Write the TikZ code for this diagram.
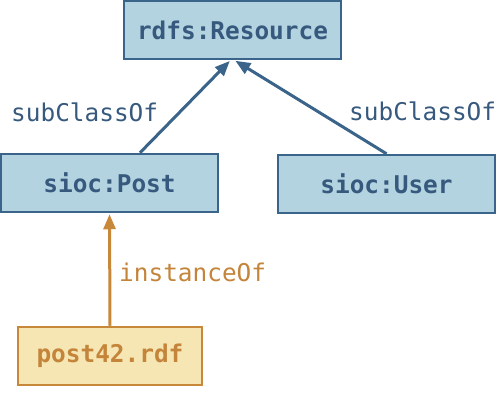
\documentclass[tikz,border=0pt]{standalone}
\usepackage{fontspec}
\setmonofont{DejaVu Sans Mono}
\usetikzlibrary{arrows.meta}
\definecolor{classfill}{HTML}{B3D3E0}
\definecolor{classline}{HTML}{3A6489}
\definecolor{classtext}{HTML}{36597D}
\definecolor{instfill}{HTML}{F5E6B3}
\definecolor{instline}{HTML}{C8883A}
\definecolor{insttext}{HTML}{C4843A}
\tikzset{
  classbox/.style={draw=classline,fill=classfill,text=classtext,line width=2.5pt,
    minimum width=217pt,minimum height=58pt,inner sep=0pt,font=\ttfamily\bfseries\fontsize{24.4}{29}\selectfont},
  instbox/.style={classbox,draw=instline,fill=instfill,text=insttext,minimum width=184pt},
  rel/.style={line width=3pt,-{Triangle[length=15pt,width=12pt]},shorten >=1pt},
  rellabel/.style={inner sep=0pt,font=\ttfamily\fontsize{24.4}{29}\selectfont}
}
\begin{document}
\begin{tikzpicture}[x=1pt,y=-1pt]
\useasboundingbox (0,0) rectangle (498,409);
\node[classbox] (resource) at (232.5,30) {rdfs:Resource};
\node[classbox] (post) at (109.5,183) {sioc:Post};
\node[classbox] (user) at (386.5,184) {sioc:User};
\node[instbox] (post42) at (110,356) {post42.rdf};
\draw[rel,classline] ([xshift=30.5pt]post.north) -- ([xshift=-2pt]resource.south);
\draw[rel,classline] (user.north) -- ([xshift=2pt]resource.south);
\draw[rel,instline] (post42.north) -- (post.south);
\node[rellabel,text=classtext,anchor=west] (subpost) at (11,112) {subClassOf};
\node[rellabel,text=classtext,anchor=west] (subuser) at (349,111) {subClassOf};
\node[rellabel,text=insttext,anchor=west] (inst) at (119,272) {instanceOf};
\end{tikzpicture}
\end{document}
